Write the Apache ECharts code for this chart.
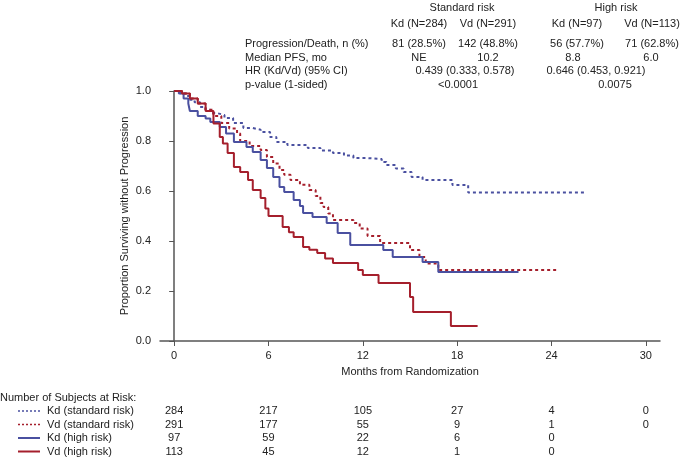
<!DOCTYPE html>
<html>
<head>
<meta charset="utf-8">
<script src="https://cdn.jsdelivr.net/npm/echarts@6/dist/echarts.min.js"></script>
<style>html,body{margin:0;padding:0;background:#fff}#c{width:685px;height:459px}</style>
</head>
<body>
<div id="c"></div>
<script>
// ---- data (months, survival proportion) ----
const kdStd = [[0,1.0],[0.4,0.99],[0.8,0.98],[1.0,0.965],[1.3,0.955],[1.65,0.936],[2.0,0.925],[2.3,0.912],[2.7,0.904],[3.2,0.892],[3.75,0.872],[4.4,0.852],[5.0,0.845],[5.5,0.836],[6.1,0.816],[6.5,0.796],[7.2,0.784],[8.5,0.772],[9.3,0.762],[10.1,0.752],[10.8,0.742],[11.4,0.732],[12.2,0.728],[13.2,0.716],[13.5,0.704],[14.1,0.69],[14.6,0.676],[15.1,0.656],[15.8,0.644],[17.7,0.624],[18.7,0.594],[26.1,0.594]];
const vdStd = [[0,1.0],[0.5,0.99],[1.0,0.97],[1.5,0.95],[2.0,0.925],[2.5,0.9],[3.0,0.872],[3.5,0.85],[4.0,0.83],[4.2,0.8],[4.8,0.78],[5.5,0.764],[5.9,0.736],[6.3,0.71],[6.7,0.684],[7.0,0.665],[7.4,0.644],[8.0,0.625],[8.6,0.604],[9.0,0.58],[9.3,0.552],[9.5,0.536],[9.8,0.51],[10.1,0.484],[11.4,0.472],[11.8,0.45],[12.3,0.42],[13.1,0.392],[15.0,0.364],[15.6,0.336],[16.0,0.31],[16.8,0.284],[24.3,0.284]];
const kdHigh = [[0,1.0],[0.3,0.99],[0.6,0.97],[0.9,0.95],[1.0,0.92],[1.5,0.9],[2.0,0.89],[2.3,0.876],[2.9,0.856],[3.3,0.83],[3.8,0.796],[4.6,0.776],[5.0,0.756],[5.5,0.724],[5.9,0.692],[6.3,0.656],[6.7,0.616],[7.0,0.596],[7.6,0.564],[8.0,0.54],[8.2,0.512],[8.8,0.496],[9.7,0.472],[10.4,0.432],[11.2,0.384],[13.3,0.364],[13.9,0.336],[15.8,0.316],[16.8,0.276],[21.9,0.276]];
const vdHigh = [[0,1.0],[0.5,0.99],[1.0,0.97],[1.5,0.95],[2.0,0.92],[2.5,0.87],[2.9,0.816],[3.1,0.79],[3.4,0.752],[3.8,0.696],[4.2,0.676],[4.7,0.644],[5.0,0.604],[5.5,0.572],[5.8,0.53],[6.0,0.5],[6.9,0.456],[7.3,0.435],[7.6,0.416],[8.2,0.376],[8.6,0.365],[9.1,0.352],[9.6,0.33],[10.1,0.312],[11.7,0.284],[12.0,0.264],[13.0,0.232],[15.0,0.176],[15.2,0.116],[17.6,0.06],[19.3,0.06]];

const xTicks = [0, 6, 12, 18, 24, 30];
const yTicks = [0, 0.2, 0.4, 0.6, 0.8, 1.0];

const groupHeaders = ['Standard risk', 'High risk'];
const armHeaders = ['Kd (N=284)', 'Vd (N=291)', 'Kd (N=97)', 'Vd (N=113)'];
const rowLabels = ['Progression/Death, n (%)', 'Median PFS, mo', 'HR (Kd/Vd) (95% CI)', 'p-value (1-sided)'];
const progDeath = ['81 (28.5%)', '142 (48.8%)', '56 (57.7%)', '71 (62.8%)'];
const medianPFS = ['NE', '10.2', '8.8', '6.0'];
const hrText = ['0.439 (0.333, 0.578)', '0.646 (0.453, 0.921)'];
const pText = ['<0.0001', '0.0075'];

const riskTitle = 'Number of Subjects at Risk:';
const riskLabels = ['Kd (standard risk)', 'Vd (standard risk)', 'Kd (high risk)', 'Vd (high risk)'];
const riskTimes = [0, 6, 12, 18, 24, 30];
const riskKdStd = [284, 217, 105, 27, 4, 0];
const riskVdStd = [291, 177, 55, 9, 1, 0];
const riskKdHigh = [97, 59, 22, 6, 0];
const riskVdHigh = [113, 45, 12, 1, 0];

const BLUE = '#4a50a0';
const RED = '#a51f2c';
const FONT = 'Liberation Sans, Arial, sans-serif';
const TXT = '#222';

const chart = echarts.init(document.getElementById('c'), null, {renderer: 'canvas'});

function mkSeries(name, data, color, dashed) {
  return {
    name, type: 'line', step: 'end', data, symbol: 'none', animation: false,
    lineStyle: {color, width: 2, type: dashed ? [3, 3] : 'solid'},
    silent: true
  };
}

chart.setOption({
  animation: false,
  grid: {left: 160, right: 25, top: 91, bottom: 118},
  xAxis: {
    type: 'value', min: -0.9, max: 30.9,
    name: 'Months from Randomization', nameLocation: 'middle', nameGap: 25, nameMoveOverlap: false,
    nameTextStyle: {fontFamily: FONT, fontSize: 11, color: TXT},
    axisLine: {show: true, lineStyle: {color: '#555', width: 1.5}},
    axisTick: {show: true, length: 5, lineStyle: {color: '#555'}, customValues: xTicks},
    axisLabel: {fontFamily: FONT, fontSize: 11, color: TXT, margin: 9, customValues: xTicks},
    splitLine: {show: false}
  },
  yAxis: {
    type: 'value', min: 0, max: 1, interval: 0.2,
    name: 'Proportion Surviving without Progression', nameLocation: 'middle', nameGap: 30, nameMoveOverlap: false,
    nameTextStyle: {fontFamily: FONT, fontSize: 11, color: TXT},
    axisLine: {show: true, lineStyle: {color: '#555', width: 1.5}},
    axisTick: {show: true, length: 5, lineStyle: {color: '#555'}},
    axisLabel: {fontFamily: FONT, fontSize: 11, color: TXT, margin: 9, formatter: v => v.toFixed(1)},
    splitLine: {show: false}
  },
  series: [
    mkSeries('Kd (standard risk)', kdStd, BLUE, true),
    mkSeries('Vd (standard risk)', vdStd, RED, true),
    mkSeries('Kd (high risk)', kdHigh, BLUE, false),
    mkSeries('Vd (high risk)', vdHigh, RED, false)
  ]
});

// ---- text tables ----
const els = [];
function txt(x, y, s, align) {
  els.push({type: 'text', x, y, style: {text: s, fontFamily: FONT, fontSize: 11, fill: TXT, align: align || 'center', verticalAlign: 'middle'}});
}
// header
const groupX = [462, 616];
const armX = [419, 488, 577, 652];
groupHeaders.forEach((s, i) => txt(groupX[i], 8, s));
armHeaders.forEach((s, i) => txt(armX[i], 24, s));
const rowY = [44, 58, 71, 85];
rowLabels.forEach((s, i) => txt(245, rowY[i], s, 'left'));
progDeath.forEach((s, i) => txt(armX[i], rowY[0], s));
const medX = [419, 488, 573, 651];
medianPFS.forEach((s, i) => txt(medX[i], rowY[1], s));
const hrX = [465, 596];
hrText.forEach((s, i) => txt(hrX[i], rowY[2], s));
const pX = [458, 615];
pText.forEach((s, i) => txt(pX[i], rowY[3], s));

// at risk
txt(0, 398, riskTitle, 'left');
const riskRowY = [411, 424.5, 438, 451.5];
const riskColors = [BLUE, RED, BLUE, RED];
const riskDashed = [true, true, false, false];
const riskRows = [riskKdStd, riskVdStd, riskKdHigh, riskVdHigh];
riskLabels.forEach((s, i) => {
  txt(47, riskRowY[i], s, 'left');
  els.push({type: 'line', shape: {x1: 18, y1: riskRowY[i], x2: 40, y2: riskRowY[i]},
    style: {stroke: riskColors[i], lineWidth: riskDashed[i] ? 1.5 : 2, lineDash: riskDashed[i] ? [2, 2] : null}});
  riskRows[i].forEach((n, j) => {
    const px = chart.convertToPixel({xAxisIndex: 0}, riskTimes[j]);
    txt(px, riskRowY[i], String(n));
  });
});

chart.setOption({graphic: {elements: els}});
</script>
</body>
</html>
